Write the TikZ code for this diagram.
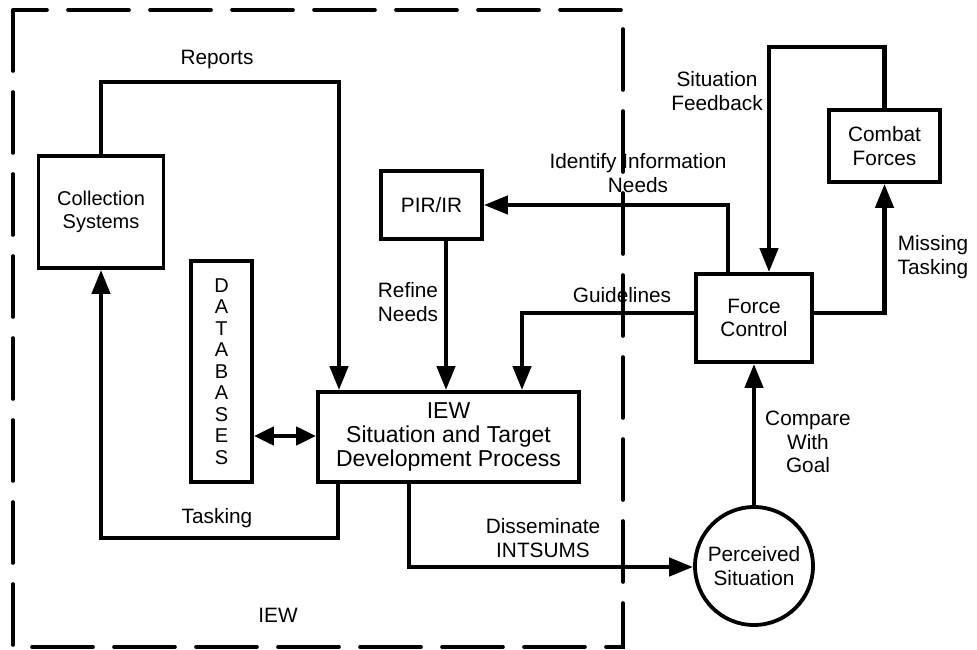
\documentclass[tikz,border=0pt]{standalone}
\usepackage{fontspec}
\setmainfont{Liberation Sans}
\usetikzlibrary{arrows.meta}
\begin{document}
\begin{tikzpicture}[x=1pt,y=-1pt,
  font=\fontsize{20.8}{23.5}\selectfont,
  box/.style={draw,line width=3.8pt,align=center,inner sep=0pt},
  conn/.style={line width=4.4pt},
  tip/.style={-{Triangle[length=24pt,width=18pt]}},
  dtip/.style={{Triangle[length=20pt,width=18pt]}-{Triangle[length=20pt,width=18pt]}},
  lbl/.style={align=center,inner sep=0pt},
  frame/.style={line width=3.6pt,line cap=round,dash pattern=on 61pt off 21pt}]
\useasboundingbox (0,0) rectangle (977,650);

% IEW boundary
\draw[frame] (13,10) rectangle (623,647);
\node[lbl] (iewlbl) at (278,615) {IEW};

% boxes
\node[box,minimum width=125pt,minimum height=112pt,font=\fontsize{20}{23.5}\selectfont] (coll) at (101,212) {Collection\\Systems};
\node[box,minimum width=101pt,minimum height=68pt] (pir) at (431.5,205) {PIR/IR};
\node[box,minimum width=61pt,minimum height=221pt,font=\fontsize{20}{21.5}\selectfont] (db) at (221.5,371.5) {D\\A\\T\\A\\B\\A\\S\\E\\S};
\node[box,minimum width=261pt,minimum height=90pt,font=\fontsize{23}{24}\selectfont] (iew) at (448.5,437) {IEW\\Situation and Target\\Development Process};
\node[box,minimum width=116pt,minimum height=88pt] (fc) at (754,318) {Force\\Control};
\node[box,minimum width=111pt,minimum height=72pt] (cf) at (884.5,146) {Combat\\Forces};
\node[box,circle,minimum size=118pt] (ps) at (754,566) {Perceived\\Situation};

% corner points of the connectors
\coordinate (rep) at (339,82);
\coordinate (tk1) at (338,538);
\coordinate (tk2) at (101,538);
\coordinate (rf) at (446,0);
\coordinate (dbl) at (0,436);
\coordinate (ds) at (409,567);
\coordinate (sf) at (769,47);
\coordinate (mt) at (884.5,313);
\coordinate (id) at (728,205);
\coordinate (gl) at (522,313);

% connectors
\draw[conn,tip] (coll.north) |- (rep) -- (rep |- iew.north);
\draw[conn,tip] (tk1 |- iew.south) -- (tk1) -- (tk2) -- (coll.south);
\draw[conn,tip] (rf |- pir.south) -- (rf |- iew.north);
\draw[conn,dtip] (db.east |- dbl) -- (iew.west |- dbl);
\draw[conn,tip] (ds |- iew.south) -- (ds) -- (ds -| ps.west);
\draw[conn,tip] (ps.north) -- (fc.south);
\draw[conn,tip] (cf.north) |- (sf) -- (sf |- fc.north);
\draw[conn,tip] (fc.east |- mt) -- (mt) -- (cf.south);
\draw[conn,tip] (id |- fc.north) -- (id) -- (pir.east);
\draw[conn,tip] (fc.west |- gl) -- (gl) -- (gl |- iew.north);

% connector labels
\node[lbl] (lrep) at (217,60) {Reports};
\node[lbl] (ltk) at (217,518) {Tasking};
\node[lbl] (lrf) at (408,302) {Refine\\Needs};
\node[lbl] (lds) at (543,538) {Disseminate\\INTSUMS};
\node[lbl] (lcmp) at (808,442) {Compare\\With\\Goal};
\node[lbl] (lsf) at (717,91) {Situation\\Feedback};
\node[lbl] (lmt) at (933,257) {Missing\\Tasking};
\node[lbl] (lid) at (638,173) {Identify Information\\Needs};
\node[lbl] (lgl) at (622,295) {Guidelines};
\end{tikzpicture}
\end{document}
